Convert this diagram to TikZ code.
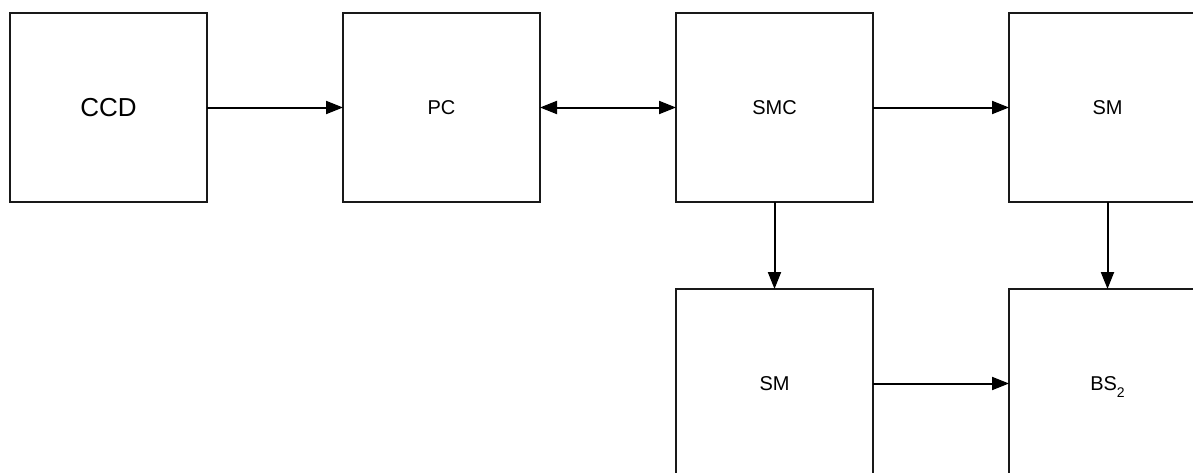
\documentclass[tikz,border=0pt]{standalone}
\usepackage{fontspec}
\setmainfont{Liberation Sans}
\usetikzlibrary{arrows.meta}
\begin{document}
\begin{tikzpicture}[x=1pt,y=-1pt,
  block/.style={draw=black!90, line width=2pt, minimum width=197pt, minimum height=189pt,
    inner sep=0pt, outer sep=0pt, font=\fontsize{20}{24}\selectfont},
  link/.style={line width=2pt, -{Triangle[length=17pt,width=13pt]}},
  dlink/.style={line width=2pt, {Triangle[length=17pt,width=13pt]}-{Triangle[length=17pt,width=13pt]}}]
\useasboundingbox (0,0) rectangle (1193,472);
\clip (0,0) rectangle (1193,472);
\fill[white] (0,0) rectangle (1193,472);
% top row
\node[block, font=\fontsize{26}{30}\selectfont] (ccd) at (108.5,107.5) {CCD};
\node[block] (pc)  at (441.5,107.5) {PC};
\node[block] (smc) at (774.5,107.5) {SMC};
\node[block] (sma) at (1107.5,107.5) {SM};
% bottom row
\node[block] (smb) at (774.5,383.5) {SM};
\node[block] (bs)  at (1107.5,383.5) {BS\raisebox{-7pt}[0pt][0pt]{\fontsize{14}{14}\selectfont 2}};
% connectors
\draw[link] (ccd) -- (pc);
\draw[dlink] (pc) -- (smc);
\draw[link] (smc) -- (sma);
\draw[link] (smc) -- (smb);
\draw[link] (sma) -- (bs);
\draw[link] (smb) -- (bs);
\end{tikzpicture}
\end{document}
